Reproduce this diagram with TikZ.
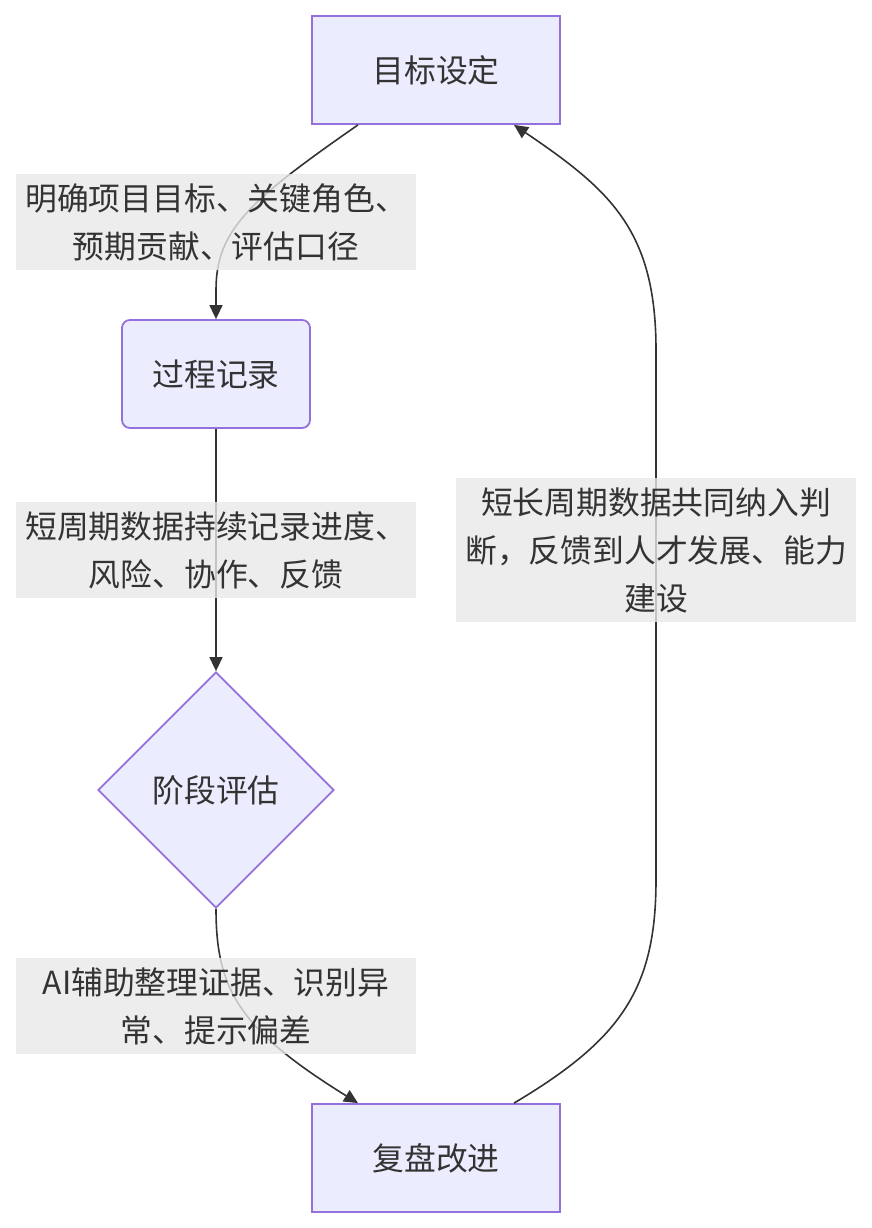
\documentclass[tikz,border=0pt]{standalone}
\usepackage{fontspec}
\setmainfont{Noto Sans CJK SC}
\usetikzlibrary{shapes.geometric,arrows.meta}
\definecolor{nodefill}{HTML}{ECECFF}
\definecolor{nodestroke}{HTML}{9370DB}
\definecolor{txt}{HTML}{333333}
\definecolor{lblfill}{HTML}{E8E8E8}
\begin{document}
\begin{tikzpicture}[x=1pt,y=-1pt,
  basefont/.style={text=txt,font=\fontsize{31.8}{48}\selectfont,inner sep=0pt},
  box/.style={basefont,draw=nodestroke,fill=nodefill,line width=1.8pt,minimum width=248pt,minimum height=108pt},
  rbox/.style={box,rounded corners=8pt,minimum width=188pt},
  decision/.style={basefont,diamond,draw=nodestroke,fill=nodefill,line width=1.8pt,minimum width=236pt,minimum height=236pt,aspect=1},
  lbl/.style={basefont,fill=lblfill,fill opacity=0.8,text opacity=1,align=center,minimum width=400pt,minimum height=96pt},
  edge/.style={draw=txt,line width=1.6pt,-{Triangle[length=14pt,width=13pt]}}
]
\useasboundingbox (0,0) rectangle (872,1228);

\node[box] (t) at (436,70) {目标设定};
\node[rbox] (p) at (216,374) {过程记录};
\node[decision] (d) at (216,790) {阶段评估};
\node[box] (f) at (436,1158) {复盘改进};

\draw[edge] ([xshift=-78pt]t.south) .. controls (250,200) and (216,230) .. (216,290) -- (p.north);
\draw[edge] (p.south) -- (d.north);
\draw[edge] (d.south) .. controls (216,990) and (240,1030) .. ([xshift=-78pt]f.north);
\draw[edge] ([xshift=78pt]f.north) .. controls (620,1040) and (656,990) .. (656,880) -- (656,350) .. controls (656,230) and (610,190) .. ([xshift=78pt]t.south);

\node[lbl] (l1) at (216,222) {明确项目目标、关键角色、\\预期贡献、评估口径};
\node[lbl] (l2) at (216,550) {短周期数据持续记录进度、\\风险、协作、反馈};
\node[lbl] (l3) at (216,1006) {AI辅助整理证据、识别异\\常、提示偏差};
\node[lbl,minimum height=144pt] (l4) at (656,550) {短长周期数据共同纳入判\\断，反馈到人才发展、能力\\建设};
\end{tikzpicture}
\end{document}
